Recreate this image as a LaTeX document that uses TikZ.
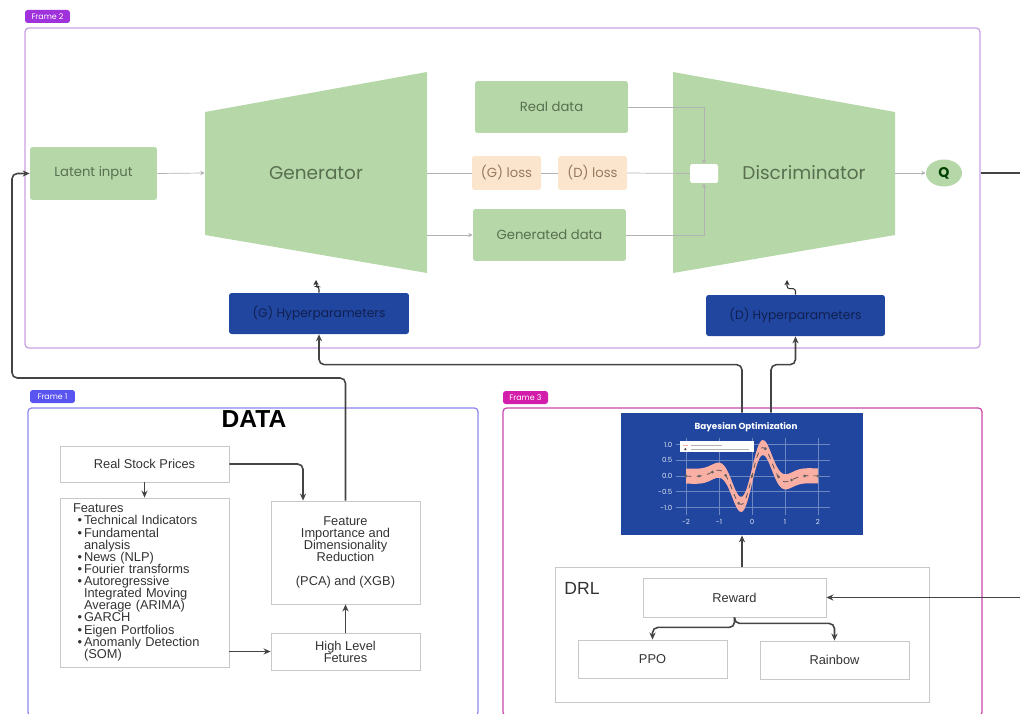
\documentclass[tikz,border=0pt]{standalone}
\usepackage{fontspec}
\setmainfont{Liberation Sans}
\newfontfamily\popfont{Poppins}
\usepackage{tikz}
\usetikzlibrary{arrows.meta,shapes.geometric,positioning}
\usepackage{xcolor}
\definecolor{ganfill}{RGB}{182,215,168}
\definecolor{gantext}{RGB}{88,112,80}
\definecolor{lossfill}{RGB}{252,229,205}
\definecolor{losstext}{RGB}{150,120,95}
\definecolor{hypblue}{RGB}{33,70,160}
\definecolor{hyptext}{RGB}{16,32,80}
\definecolor{frametwo}{RGB}{160,50,220}
\definecolor{frametwoline}{RGB}{200,160,225}
\definecolor{frameone}{RGB}{90,85,240}
\definecolor{frameoneline}{RGB}{140,135,240}
\definecolor{framethree}{RGB}{210,30,170}
\definecolor{framethreeline}{RGB}{200,70,170}
\definecolor{boxline}{RGB}{200,200,200}
\definecolor{connline}{RGB}{68,68,68}
\definecolor{bandpink}{RGB}{250,175,165}
\tikzstyle{ganbox} = [rectangle, rounded corners=1.5pt, fill=ganfill, text=gantext, font=\popfont\fontsize{7.5}{8}\selectfont]
\tikzstyle{lossbox} = [rectangle, rounded corners=1.5pt, fill=lossfill, text=losstext, minimum width=1.38cm, minimum height=0.68cm, font=\popfont\fontsize{7.5}{8}\selectfont]
\tikzstyle{hypbox} = [rectangle, rounded corners=1.5pt, fill=hypblue, text=hyptext, minimum height=0.82cm, font=\popfont\fontsize{7}{8}\selectfont]
\tikzstyle{databox} = [rectangle, draw=boxline, line width=0.5pt, fill=white, text=black!80, font=\fontsize{7.3}{6.9}\selectfont]
\tikzstyle{framebox} = [rectangle, rounded corners=2pt, line width=0.7pt]
\tikzstyle{framelabel} = [rectangle, rounded corners=1.5pt, text=white, minimum width=0.9cm, minimum height=0.26cm, inner sep=0pt, font=\popfont\fontsize{4.5}{5}\selectfont]
\tikzstyle{ganline} = [gray!60, line width=0.4pt]
\tikzstyle{ganarrow} = [ganline, -{Stealth[length=2.5pt,width=2.5pt]}]
\tikzstyle{conn} = [connline, line width=0.9pt, rounded corners=3pt]
\tikzstyle{arrow} = [conn, -{Stealth[length=4pt,width=3.5pt]}]
\tikzstyle{hyparrow} = [black!80, line width=0.6pt, rounded corners=1.5pt, -{Stealth[length=3pt,width=3pt]}]
\tikzstyle{plotgrid} = [white!35!hypblue, line width=0.3pt]
\tikzstyle{ticklab} = [text=white!85!hypblue, inner sep=1pt, font=\popfont\fontsize{4}{4}\selectfont]
\newcommand{\fitem}{\makebox[0.22cm][r]{\textbullet\hspace{0.04cm}}}
\newcommand{\fcont}{\hspace*{0.22cm}}

\begin{document}
\begin{tikzpicture}[x=0.02cm, y=-0.02cm,
    declare function={fb(\x)=1.1*sin(4*\x r)*exp(-1.5*\x*\x);}]
    \useasboundingbox (0,0) rectangle (1020,713);

    % Frames
    \node[framebox, draw=frametwoline, minimum width=19.1cm, minimum height=6.4cm] (frame2) at (502.5,188) {};
    \node[framelabel, fill=frametwo] (frame2lab) at (47.5,16.5) {Frame 2};
    \node[framebox, draw=frameoneline, minimum width=9cm, minimum height=6.16cm] (frame1) at (253,562) {};
    \node[framelabel, fill=frameone] (frame1lab) at (52.5,396.5) {Frame 1};
    \node[framebox, draw=framethreeline, minimum width=9.58cm, minimum height=6.16cm] (frame3) at (742.5,562) {};
    \node[framelabel, fill=framethree] (frame3lab) at (525.5,397.5) {Frame 3};

    % GAN
    \fill[ganfill] (205,112) -- (427,72) -- (427,273) -- (205,235) -- cycle;
    \fill[ganfill] (673,72) -- (895,112) -- (895,235) -- (673,273) -- cycle;
    \node[text=gantext, font=\popfont\fontsize{10.5}{11}\selectfont, minimum width=4.44cm] (gen) at (316,173) {Generator};
    \node[text=gantext, font=\popfont\fontsize{10.5}{11}\selectfont, minimum width=3.64cm] (disc) at (804,173) {Discriminator};
    \node[ganbox, minimum width=2.54cm, minimum height=1.06cm] (latent) at (93.5,173.5) {Latent input};
    \node[ganbox, minimum width=3.06cm, minimum height=1.04cm] (realdata) at (551.5,107) {Real data};
    \node[ganbox, minimum width=3.06cm, minimum height=1.04cm] (gendata) at (549.5,235) {Generated data};
    \node[lossbox] (gloss) at (506.5,173) {(G) loss};
    \node[lossbox] (dloss) at (592.5,173) {(D) loss};
    \node[rectangle, rounded corners=1pt, fill=white, minimum width=0.56cm, minimum height=0.38cm] (mix) at (704,173.5) {};
    \node[ellipse, fill=ganfill, text=black!75!green, inner sep=0pt, minimum width=0.72cm, minimum height=0.54cm, font=\popfont\bfseries\fontsize{8}{8}\selectfont] (q) at (944,173) {Q};
    \draw[ganarrow] (latent.east) -- (gen.west);
    \draw[ganline] (gen.east) -- (gloss.west);
    \draw[ganarrow] (gen.east |- gendata) -- (gendata.west);
    \draw[ganline] (gloss.east) -- (dloss.west);
    \draw[ganline] (dloss.east) -- (mix.west);
    \draw[ganarrow] (realdata.east) -| (mix.north);
    \draw[ganarrow] (gendata.east) -| (mix.south);
    \draw[ganarrow] (disc.east) -- (q.west);

    % Hyperparameters
    \node[hypbox, minimum width=3.6cm] (ghyp) at (319,313.5) {(G) Hyperparameters};
    \node[hypbox, minimum width=3.58cm] (dhyp) at (795.5,315.5) {(D) Hyperparameters};
    \coordinate (gtip) at (316,280);
    \coordinate (dtip) at (787,280);
    \draw[hyparrow] (ghyp.north) -- ++(0,-6) -| (gtip);
    \draw[hyparrow] (dhyp.north) -- ++(0,-6) -| (dtip);

    % Data
    \node[font=\bfseries\fontsize{14}{14}\selectfont] (datatitle) at (254,419) {DATA};
    \node[databox, minimum width=3.38cm, minimum height=0.72cm] (stock) at (144.5,464) {Real Stock Prices};
    \node[databox, minimum height=3.38cm, text width=2.86cm, inner xsep=0.26cm, align=left] (feats) at (144.5,582.5) {%
        Features\\
        \fitem Technical Indicators\\
        \fitem Fundamental\\
        \fcont analysis\\
        \fitem News (NLP)\\
        \fitem Fourier transforms\\
        \fitem Autoregressive\\
        \fcont Integrated Moving\\
        \fcont Average (ARIMA)\\
        \fitem GARCH\\
        \fitem Eigen Portfolios\\
        \fitem Anomanly Detection\\
        \fcont (SOM)};
    \node[databox, minimum width=2.98cm, minimum height=2.06cm, align=center] (featimp) at (345.5,552.5) {Feature\\Importance and\\Dimensionality\\Reduction\\[6.9pt](PCA) and (XGB)};
    \node[databox, minimum width=2.98cm, minimum height=0.74cm, align=center] (highlvl) at (345.5,651.5) {High Level\\Fetures};
    \draw[arrow] (stock.south) -- (feats.north);
    \draw[arrow] (stock.east) -| ([xshift=-0.85cm]featimp.north);
    \draw[arrow] (feats.east |- highlvl) -- (highlvl.west);
    \draw[arrow] (highlvl.north) -- (featimp.south);

    % Bayesian optimization plot
    \node[rectangle, fill=hypblue, minimum width=4.84cm, minimum height=2.44cm] (bayes) at (742,474) {};
    \begin{scope}[shift={(752,476)}, x=0.66cm, y=0.63cm]
        \foreach \gx in {-2,...,2} {
            \draw[plotgrid] (\gx,-1.24) -- (\gx,1.21);
            \node[ticklab] at (\gx,-1.46) {\gx};
        }
        \foreach \gy/\lab in {-1/-1.0,-0.5/-0.5,0/0.0,0.5/0.5,1/1.0} {
            \draw[plotgrid] (-2.3,\gy) -- (2.36,\gy);
            \node[ticklab, left] at (-2.35,\gy) {\lab};
        }
        \fill[bandpink] plot[domain=-2:2, samples=60, smooth] (\x,{fb(\x)+0.24}) -- plot[domain=2:-2, samples=60, smooth] (\x,{fb(\x)-0.24}) -- cycle;
        \draw[black!70, dashed, line width=0.4pt] plot[domain=-2:2, samples=60, smooth] (\x,{fb(\x)});
        \foreach \mx in {-2,-1.6,...,2} \fill[black!60] (\mx,{fb(\mx)}) circle (0.9pt);
        \fill[white] (-2.18,1.11) rectangle (0.06,0.76);
        \fill[bandpink] (-2.1,1.0) rectangle (-1.95,0.95);
        \draw[gray!60, line width=0.6pt] (-1.85,0.98) -- (-0.9,0.98);
        \fill[black!70] (-2.02,0.85) circle (0.7pt);
        \draw[gray!60, line width=0.6pt] (-1.85,0.85) -- (-0.1,0.85);
        \node[text=white, font=\popfont\bfseries\fontsize{5}{5}\selectfont] (bayestitle) at (-0.18,1.56) {Bayesian Optimization};
    \end{scope}

    % DRL
    \node[rectangle, draw=boxline, line width=0.5pt, minimum width=7.48cm, minimum height=2.7cm] (drl) at (742,634.5) {};
    \node[text=black!80, font=\fontsize{10}{10}\selectfont] (drllab) at (582,588) {DRL};
    \node[databox, minimum width=3.66cm, minimum height=0.78cm] (reward) at (734.5,597.5) {Reward};
    \node[databox, minimum width=2.98cm, minimum height=0.76cm] (ppo) at (652.5,659) {PPO};
    \node[databox, minimum width=2.98cm, minimum height=0.76cm] (rainbow) at (834.5,660) {Rainbow};
    \draw[arrow] (reward.south) -- ++(0,10) -| (ppo.north);
    \draw[arrow] (reward.south) -- ++(0,6) -| (rainbow.north);
    \draw[arrow] (drl.north) -- (bayes.south);

    % Long connectors
    \coordinate (qend) at (1020,173);
    \coordinate (rin) at (1020,597.5);
    \draw[conn] (frame2.east |- q) -- (qend);
    \draw[arrow] (rin) -- (reward.east);
    \draw[arrow] (bayes.north) -- ++(0,-48) -| (ghyp.south);
    \draw[arrow] (bayes.north) ++(29,0) -- ++(0,-48) -| (dhyp.south);
    \draw[arrow] (featimp.north) |- (12,378) |- (latent.west);
\end{tikzpicture}
\end{document}
